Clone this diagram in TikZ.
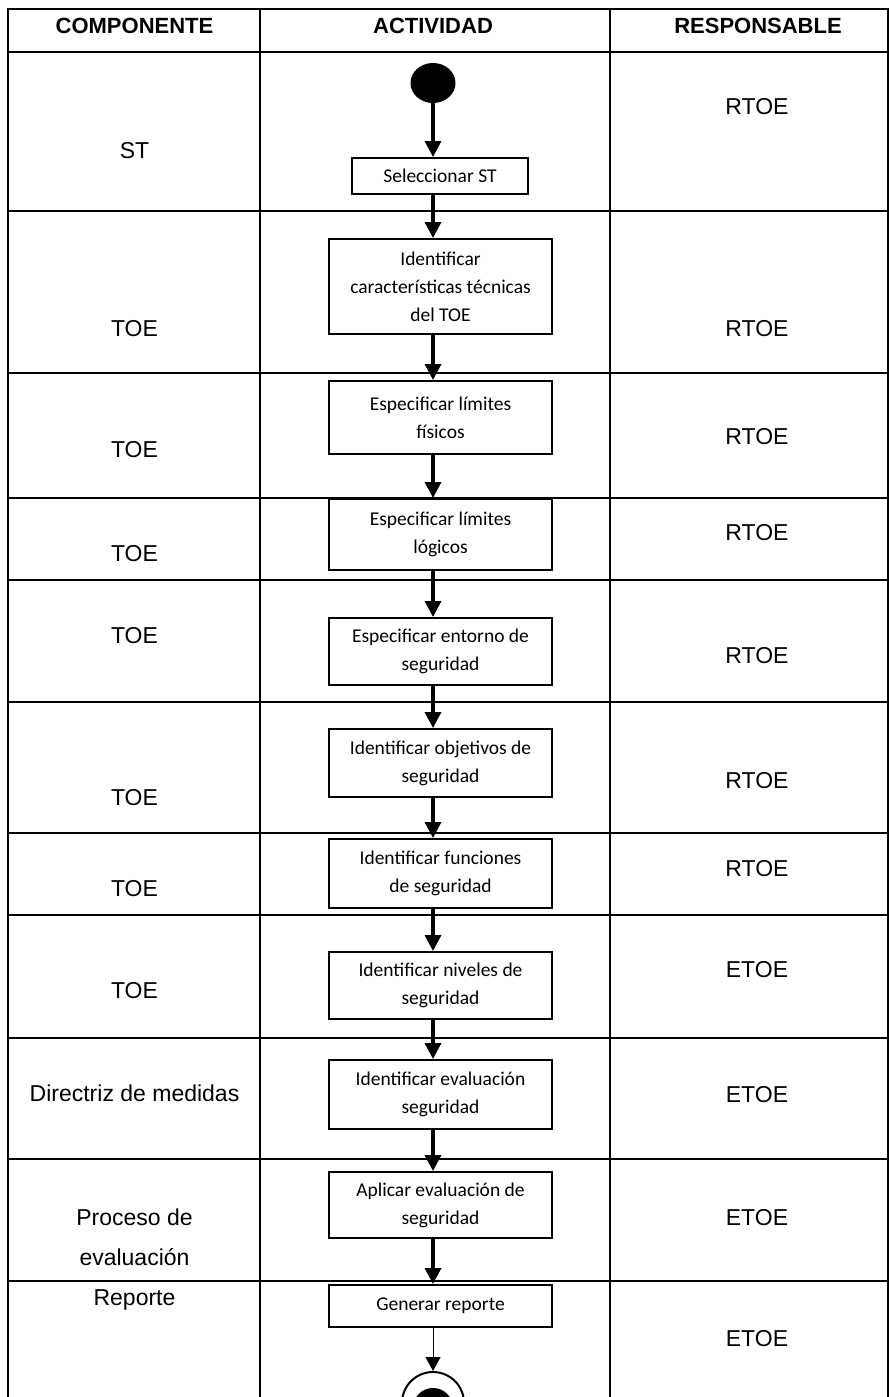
\documentclass[tikz,border=0pt]{standalone}
\usepackage{fontspec}
\setmainfont{Liberation Sans}
\newfontfamily\carlito{Carlito}
\usetikzlibrary{arrows.meta, shapes.geometric, positioning}

\newcommand\fuentecab{\bfseries\fontsize{22}{26}\selectfont}
\newcommand\fuentecelda{\fontsize{23}{40}\selectfont}
\newcommand\fuentecaja{\carlito\fontsize{19.5}{28}\selectfont}

\tikzset{
    linea/.style={line width=2pt, line cap=rect},
    lineafina/.style={line width=1.2pt},
    cab/.style={font=\fuentecab, inner sep=0pt, anchor=base},
    celda/.style={font=\fuentecelda, inner sep=0pt, anchor=base, align=center},
    actividad/.style={draw, line width=2pt, font=\fuentecaja, align=center,
        minimum width=223pt, inner sep=0pt, anchor=north},
    flujo/.style={line width=3.4pt, -{Triangle[width=16pt,length=16pt]}},
    flujofino/.style={line width=1pt, -{Triangle[width=15pt,length=14pt]}},
    inicio/.style={ellipse, fill=black, minimum width=45pt, minimum height=40pt, inner sep=0pt},
    fin/.style={circle, draw, line width=2pt, minimum size=62pt, inner sep=0pt},
    fincentro/.style={circle, fill=black, minimum size=40pt, inner sep=0pt}
}

\begin{document}
\begin{tikzpicture}[x=1pt, y=-1pt]
    \useasboundingbox (0,0) rectangle (890,1397);
    \clip (0,0) rectangle (890,1397);
    % tabla
    \draw[linea] (8,9) -- (888,9);
    \draw[linea] (8,9) -- (8,1400);
    \draw[linea] (888,9) -- (888,1400);
    \draw[lineafina] (260,9) -- (260,1400);
    \draw[lineafina] (610,9) -- (610,1400);
    \draw[linea] (8,52) -- (888,52);
    \draw[linea] (8,211) -- (888,211);
    \draw[linea] (8,373) -- (888,373);
    \draw[linea] (8,497.5) -- (888,497.5);
    \draw[linea] (8,580) -- (888,580);
    \draw[linea] (8,702) -- (888,702);
    \draw[linea] (8,833) -- (888,833);
    \draw[linea] (8,915) -- (888,915);
    \draw[linea] (8,1037.5) -- (888,1037.5);
    \draw[linea] (8,1159) -- (888,1159);
    \draw[linea] (8,1281) -- (888,1281);
    % encabezados
    \node[cab] (hcomp) at (134.5,34) {COMPONENTE};
    \node[cab] (hact) at (433,34) {ACTIVIDAD};
    \node[cab] (hresp) at (758,34) {RESPONSABLE};
    % componente
    \node[celda] (c1) at (134.5,158) {ST};
    \node[celda] (c2) at (134.5,336) {TOE};
    \node[celda] (c3) at (134.5,457) {TOE};
    \node[celda] (c4) at (134.5,561) {TOE};
    \node[celda] (c5) at (134.5,643) {TOE};
    \node[celda] (c6) at (134.5,805) {TOE};
    \node[celda] (c7) at (134.5,896) {TOE};
    \node[celda] (c8) at (134.5,998) {TOE};
    \node[celda] (c9) at (134.5,1101) {Directriz de medidas};
    \node[celda] (c10) at (134.5,1265) {Proceso de\\evaluación};
    \node[celda] (c11) at (134.5,1305) {Reporte};
    % responsable
    \node[celda] (r1) at (757,114) {RTOE};
    \node[celda] (r2) at (757,336) {RTOE};
    \node[celda] (r3) at (757,444) {RTOE};
    \node[celda] (r4) at (757,540) {RTOE};
    \node[celda] (r5) at (757,663) {RTOE};
    \node[celda] (r6) at (757,788) {RTOE};
    \node[celda] (r7) at (757,876) {RTOE};
    \node[celda] (r8) at (757,977) {ETOE};
    \node[celda] (r9) at (757,1102) {ETOE};
    \node[celda] (r10) at (757,1225) {ETOE};
    \node[celda] (r11) at (757,1346) {ETOE};
    % actividades
    \coordinate (eje) at (433,0);
    \node[inicio] (ini) at (433,83) {};
    \node[actividad, minimum width=176pt, minimum height=36pt] (sel) at (440,157) {Seleccionar ST};
    \node[actividad, minimum height=95pt] (car) at (440.5,238) {Identificar\\características técnicas\\del TOE};
    \node[actividad, minimum height=73pt] (fis) at (440.5,380) {Especificar límites\\físicos};
    \node[actividad, minimum height=71pt] (log) at (440.5,498) {Especificar límites\\lógicos};
    \node[actividad, minimum height=67pt] (ent) at (440.5,617) {Especificar entorno de\\seguridad};
    \node[actividad, minimum height=68pt] (obj) at (440.5,728) {Identificar objetivos de\\seguridad};
    \node[actividad, minimum height=69pt] (fun) at (440.5,838) {Identificar funciones\\de seguridad};
    \node[actividad, minimum height=67pt] (niv) at (440.5,951) {Identificar niveles de\\seguridad};
    \node[actividad, minimum height=69pt] (eva) at (440.5,1059) {Identificar evaluación\\seguridad};
    \node[actividad, minimum height=66pt] (apl) at (440.5,1171) {Aplicar evaluación de\\seguridad};
    \node[actividad, minimum height=42pt] (gen) at (440.5,1284) {Generar reporte};
    \node[fin] (fin) at (433,1403) {};
    \node[fincentro] (finc) at (433,1408) {};
    % flechas
    \draw[flujo] (ini.south) -- (sel.north -| eje);
    \draw[flujo] (sel.south -| eje) -- (car.north -| eje);
    \draw[flujo] (car.south -| eje) -- (fis.north -| eje);
    \draw[flujo] (fis.south -| eje) -- (log.north -| eje);
    \draw[flujo] (log.south -| eje) -- (ent.north -| eje);
    \draw[flujo] (ent.south -| eje) -- (obj.north -| eje);
    \draw[flujo] (obj.south -| eje) -- (fun.north -| eje);
    \draw[flujo] (fun.south -| eje) -- (niv.north -| eje);
    \draw[flujo] (niv.south -| eje) -- (eva.north -| eje);
    \draw[flujo] (eva.south -| eje) -- (apl.north -| eje);
    \draw[flujo] (apl.south -| eje) -- (gen.north -| eje);
    \draw[flujofino] (gen.south -| eje) -- (fin.north);
\end{tikzpicture}
\end{document}
